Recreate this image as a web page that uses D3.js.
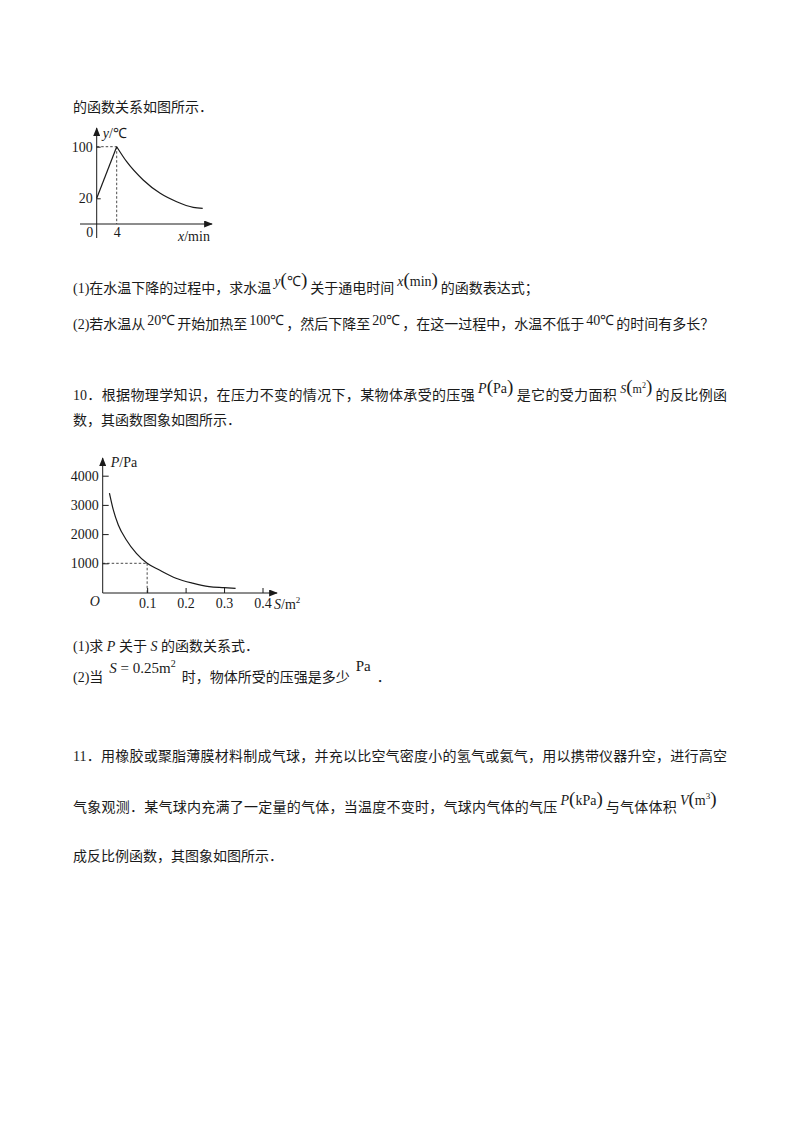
<!DOCTYPE html>
<html><head><meta charset="utf-8">
<script src="https://cdn.jsdelivr.net/npm/d3@7"></script>
<style>
html,body{margin:0;padding:0;background:#fff;}
body{width:800px;height:1132px;position:relative;overflow:hidden;font-family:"Liberation Serif","Noto Sans CJK SC",serif;color:#1a1a1a;}
.ln{position:absolute;left:73px;font-size:14px;line-height:20px;white-space:nowrap;}
.j{width:654px;text-align:justify;text-align-last:justify;white-space:normal;}
.m{position:relative;top:-7px;font-size:14px;margin:0 3px;font-family:"Liberation Serif",serif;}
.m i{font-style:italic;}
.p{font-size:19px;}
.s{position:relative;top:-4px;font-size:14px;margin:0 2px;font-family:"Liberation Serif",serif;}
svg{position:absolute;left:0;top:0;}
</style></head>
<body>
<div class="ln" style="top:98px">的函数关系如图所示．</div>
<div class="ln" style="top:277px">(1)在水温下降的过程中，求水温<span class="m"><i>y</i><span class="p">(</span>℃<span class="p">)</span></span>关于通电时间<span class="m"><i>x</i><span class="p">(</span>min<span class="p">)</span></span>的函数表达式；</div>
<div class="ln" style="top:315px">(2)若水温从<span class="s">20℃</span>开始加热至<span class="s">100℃</span>，然后下降至<span class="s">20℃</span>，在这一过程中，水温不低于<span class="s">40℃</span>的时间有多长？</div>
<div class="ln j" style="top:383px">10．根据物理学知识，在压力不变的情况下，某物体承受的压强<span class="m"><i>P</i><span class="p">(</span>Pa<span class="p">)</span></span>是它的受力面积<span class="m" style="font-size:12px"><i>S</i><span class="p">(</span>m<sup style="font-size:8px">2</sup><span class="p">)</span></span>的反比例函</div>
<div class="ln" style="top:411px">数，其函数图象如图所示．</div>
<div class="ln" style="top:637px">(1)求 <i style="font-family:'Liberation Serif'">P</i> 关于 <i style="font-family:'Liberation Serif'">S</i> 的函数关系式．</div>
<div class="ln" style="top:663px">(2)当<span class="m" style="top:-9px;margin:0 6px;font-size:15px"><i>S</i> = 0.25m<sup style="font-size:10px">2</sup></span>时，物体所受的压强是多少<span class="m" style="top:-11px;margin:0 6px;font-size:15px">Pa</span>．</div>
<div class="ln j" style="top:747px">11．用橡胶或聚脂薄膜材料制成气球，并充以比空气密度小的氢气或氦气，用以携带仪器升空，进行高空</div>
<div class="ln" style="top:793px;letter-spacing:0.25px">气象观测．某气球内充满了一定量的气体，当温度不变时，气球内气体的气压<span class="m" style="margin:0 3px;letter-spacing:0"><i>P</i><span class="p">(</span>kPa<span class="p">)</span></span>与气体体积<span class="m" style="margin:0 3px;letter-spacing:0"><i>V</i><span class="p">(</span>m<sup style="font-size:9px">3</sup><span class="p">)</span></span></div>
<div class="ln" style="top:847px">成反比例函数，其图象如图所示．</div>
<svg id="chart" width="800" height="1132"></svg>
<script>
// ---- Chart 1: water temperature y(℃) vs time x(min)
const tempTicks = [20, 100];
const timeTicks = [4];
const heatingSeries = [[0, 20], [4, 100]];
const coolingSeries = [[4, 100], [6, 76.7], [9.3, 48.4], [12.7, 27.7], [16, 14.7], [19.3, 6], [21.2, 4.5]];
const peakPoint = [4, 100];

// ---- Chart 2: pressure P(Pa) vs area S(m²)
const pressureTicks = [1000, 2000, 3000, 4000];
const areaTicks = [0.1, 0.2, 0.3, 0.4];
const pressureSeries = [[0.002, 3400], [0.012, 2830], [0.025, 2310], [0.046, 1800], [0.072, 1340], [0.1, 1000], [0.132, 770], [0.175, 490], [0.218, 320], [0.261, 200], [0.3, 165], [0.33, 140]];
const markPoint = [0.1, 1000];

const svg = d3.select("#chart");
const ink = "#1a1a1a";
const defs = svg.append("defs");
defs.append("marker").attr("id", "arr").attr("viewBox", "0 0 10 8")
  .attr("refX", 9).attr("refY", 4).attr("markerWidth", 9).attr("markerHeight", 7)
  .attr("markerUnits", "userSpaceOnUse").attr("orient", "auto")
  .append("path").attr("d", "M0,0L10,4L0,8Z").attr("fill", ink);

function serif(sel, size) {
  return sel.attr("font-family", "Liberation Serif, serif").attr("font-size", size).attr("fill", ink);
}

// ===== Chart 1 =====
{
  const x = d3.scaleLinear().domain([0, 4]).range([96.7, 116.7]);
  const y = d3.scaleLinear().domain([20, 100]).range([198.3, 146.7]);
  const axisY = 224;
  const g = svg.append("g");
  g.append("line").attr("x1", x(0)).attr("x2", x(0)).attr("y1", axisY + 14).attr("y2", 128)
    .attr("stroke", ink).attr("stroke-width", 1).attr("marker-end", "url(#arr)");
  g.append("line").attr("x1", 80).attr("x2", 212).attr("y1", axisY).attr("y2", axisY)
    .attr("stroke", ink).attr("stroke-width", 1).attr("marker-end", "url(#arr)");
  const ay = d3.axisLeft(y).tickValues(tempTicks).tickSize(-4).tickPadding(4).tickFormat(d3.format("d"));
  const gy = g.append("g").attr("transform", `translate(${x(0)},0)`).call(ay);
  gy.select(".domain").remove();
  gy.selectAll("line").attr("stroke", ink);
  serif(gy.selectAll("text"), 14);
  const ax = d3.axisBottom(x).tickValues(timeTicks).tickSize(0).tickPadding(3).tickFormat(d3.format("d"));
  const gx = g.append("g").attr("transform", `translate(0,${axisY})`).call(ax);
  gx.select(".domain").remove();
  serif(gx.selectAll("text"), 14);
  serif(g.append("text"), 14).attr("x", x(0) - 7).attr("y", axisY + 3).attr("dy", "0.71em")
    .attr("text-anchor", "middle").text("0");
  g.append("line").attr("x1", x(0)).attr("x2", x(peakPoint[0])).attr("y1", y(peakPoint[1])).attr("y2", y(peakPoint[1]))
    .attr("stroke", ink).attr("stroke-width", 0.8).attr("stroke-dasharray", "2.5,2");
  g.append("line").attr("x1", x(peakPoint[0])).attr("x2", x(peakPoint[0])).attr("y1", y(peakPoint[1])).attr("y2", axisY)
    .attr("stroke", ink).attr("stroke-width", 0.8).attr("stroke-dasharray", "2.5,2");
  const line = d3.line().x(d => x(d[0])).y(d => y(d[1]));
  g.append("path").attr("d", line(heatingSeries)).attr("fill", "none").attr("stroke", ink).attr("stroke-width", 1.2);
  g.append("path").attr("d", line.curve(d3.curveMonotoneX)(coolingSeries)).attr("fill", "none").attr("stroke", ink).attr("stroke-width", 1.2);
  const ty = serif(g.append("text"), 14).attr("x", x(0) + 6).attr("y", 138);
  ty.append("tspan").attr("font-style", "italic").text("y");
  ty.append("tspan").text("/℃");
  const tx = serif(g.append("text"), 14).attr("x", 178).attr("y", axisY + 17);
  tx.append("tspan").attr("font-style", "italic").text("x");
  tx.append("tspan").text("/min");
}

// ===== Chart 2 =====
{
  const x = d3.scaleLinear().domain([0, 0.4]).range([108.7, 262.5]);
  const y = d3.scaleLinear().domain([0, 4000]).range([592.5, 475.7]);
  const axisX = 102.7;
  const axisY = 593;
  const g = svg.append("g");
  g.append("line").attr("x1", axisX).attr("x2", axisX).attr("y1", axisY).attr("y2", 458)
    .attr("stroke", ink).attr("stroke-width", 1).attr("marker-end", "url(#arr)");
  g.append("line").attr("x1", axisX).attr("x2", 277).attr("y1", axisY).attr("y2", axisY)
    .attr("stroke", ink).attr("stroke-width", 1).attr("marker-end", "url(#arr)");
  const ay = d3.axisLeft(y).tickValues(pressureTicks).tickSize(-6).tickPadding(4).tickFormat(d3.format("d"));
  const gy = g.append("g").attr("transform", `translate(${axisX},0)`).call(ay);
  gy.select(".domain").remove();
  gy.selectAll("line").attr("stroke", ink);
  serif(gy.selectAll("text"), 14);
  const ax = d3.axisBottom(x).tickValues(areaTicks).tickSize(-5).tickPadding(5).tickFormat(d3.format(".1f"));
  const gx = g.append("g").attr("transform", `translate(0,${axisY})`).call(ax);
  gx.select(".domain").remove();
  gx.selectAll("line").attr("stroke", ink);
  serif(gx.selectAll("text"), 14);
  serif(g.append("text"), 14).attr("x", axisX - 8).attr("y", axisY + 13).attr("text-anchor", "middle")
    .attr("font-style", "italic").text("O");
  g.append("line").attr("x1", axisX).attr("x2", x(markPoint[0])).attr("y1", y(markPoint[1])).attr("y2", y(markPoint[1]))
    .attr("stroke", ink).attr("stroke-width", 0.8).attr("stroke-dasharray", "2.5,2");
  g.append("line").attr("x1", x(markPoint[0])).attr("x2", x(markPoint[0])).attr("y1", y(markPoint[1])).attr("y2", axisY)
    .attr("stroke", ink).attr("stroke-width", 0.8).attr("stroke-dasharray", "2.5,2");
  const line = d3.line().x(d => x(d[0])).y(d => y(d[1])).curve(d3.curveMonotoneX);
  g.append("path").attr("d", line(pressureSeries)).attr("fill", "none").attr("stroke", ink).attr("stroke-width", 1.2);
  const ty = serif(g.append("text"), 14).attr("x", axisX + 8).attr("y", 467);
  ty.append("tspan").attr("font-style", "italic").text("P");
  ty.append("tspan").text("/Pa");
  const tx = serif(g.append("text"), 14).attr("x", 274).attr("y", axisY + 16);
  tx.append("tspan").attr("font-style", "italic").text("S");
  tx.append("tspan").text("/m");
  tx.append("tspan").attr("font-size", 9).attr("dy", -6).text("2");
}
</script>
</body></html>
